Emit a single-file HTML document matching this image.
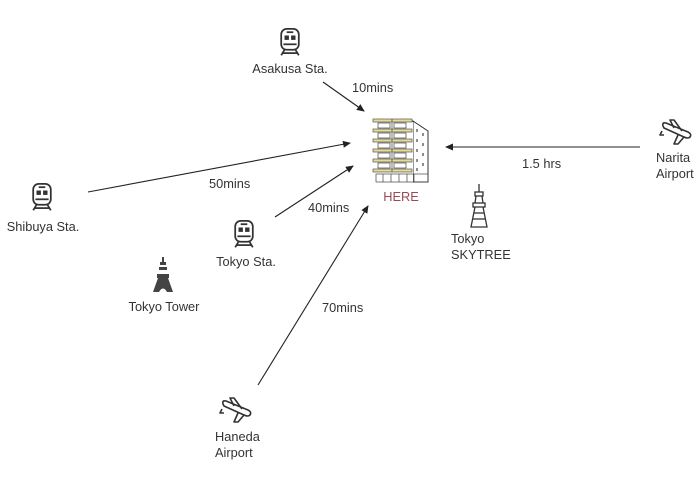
<!DOCTYPE html>
<html><head><meta charset="utf-8"><style>
html,body{margin:0;padding:0;background:#fff;}
svg{display:block;}
text{font-family:"Liberation Sans","DejaVu Sans",sans-serif;font-size:12.8px;fill:#333;}
</style></head><body>
<svg width="700" height="500" viewBox="0 0 700 500" xmlns="http://www.w3.org/2000/svg">
<defs>
<marker id="ah" markerWidth="8" markerHeight="8" refX="7" refY="4" orient="auto" markerUnits="userSpaceOnUse">
<path d="M0,0.5 L8,4 L0,7.5 Z" fill="#222"/></marker>
<g id="train" fill="none" stroke="#333" stroke-width="1.6">
<rect x="-8" y="-11" width="16" height="19" rx="5"/>
<line x1="-3" y1="-8" x2="3" y2="-8"/>
<rect x="-5" y="-5" width="4" height="4" fill="#333" stroke="none"/>
<rect x="1" y="-5" width="4" height="4" fill="#333" stroke="none"/>
<line x1="-6" y1="3" x2="6" y2="3"/>
<line x1="-5" y1="8" x2="-8" y2="13"/><line x1="5" y1="8" x2="8" y2="13"/>
<line x1="-7" y1="11" x2="7" y2="11"/>
</g>
<g id="plane" fill="none" stroke="#333" stroke-width="1.6" stroke-linejoin="round">
<path d="M-13,-6 Q-14,-10 -10,-9 L12,0 Q16,2 14,5 Q12,7 8,5 L-12,-4 Z"/>
<path d="M-2,-4 L-6,-12 L-2,-12 L6,-1"/>
<path d="M2,3 L-2,12 L2,12 L8,5"/>
<path d="M-14,-1 L-16,3 L-12,3"/>
</g>
</defs>

<g stroke="#222" stroke-width="1.1" marker-end="url(#ah)">
<line x1="323" y1="82" x2="364" y2="111"/>
<line x1="88" y1="192" x2="350" y2="143"/>
<line x1="275" y1="217" x2="353" y2="166"/>
<line x1="258" y1="385" x2="368" y2="206"/>
<line x1="640" y1="147" x2="446" y2="147"/>
</g>

<g>
<polygon points="413,121 428,131 428,182 413,182" fill="#fff" stroke="#333" stroke-width="1"/>
<rect x="375" y="122" width="38" height="60" fill="#fff" stroke="none"/>
<g fill="#e6dc96" stroke="#555" stroke-width="0.7">
<rect x="373" y="119" width="39" height="3"/>
<rect x="373" y="129" width="39" height="3"/>
<rect x="373" y="139" width="39" height="3"/>
<rect x="373" y="149" width="39" height="3"/>
<rect x="373" y="159" width="39" height="3"/>
<rect x="373" y="169" width="39" height="3"/>
</g>
<g fill="none" stroke="#444" stroke-width="0.7">
<rect x="378" y="123" width="12" height="5"/><rect x="394" y="123" width="12" height="5"/>
<rect x="378" y="133" width="12" height="5"/><rect x="394" y="133" width="12" height="5"/>
<rect x="378" y="143" width="12" height="5"/><rect x="394" y="143" width="12" height="5"/>
<rect x="378" y="153" width="12" height="5"/><rect x="394" y="153" width="12" height="5"/>
<rect x="378" y="163" width="12" height="5"/><rect x="394" y="163" width="12" height="5"/>
<line x1="392" y1="119" x2="392" y2="172"/>
<rect x="376" y="174" width="52" height="8"/>
<line x1="383" y1="174" x2="383" y2="182"/><line x1="391" y1="174" x2="391" y2="182"/><line x1="399" y1="174" x2="399" y2="182"/><line x1="407" y1="174" x2="407" y2="182"/><line x1="414" y1="174" x2="414" y2="182"/>
</g>
<g stroke="#444" stroke-width="1.2">
<line x1="417" y1="129" x2="417" y2="132"/><line x1="423" y1="133" x2="423" y2="136"/>
<line x1="417" y1="139" x2="417" y2="142"/><line x1="423" y1="143" x2="423" y2="146"/>
<line x1="417" y1="149" x2="417" y2="152"/><line x1="423" y1="153" x2="423" y2="156"/>
<line x1="417" y1="159" x2="417" y2="162"/><line x1="423" y1="163" x2="423" y2="166"/>
<line x1="417" y1="168" x2="417" y2="171"/>
</g>
</g>
<text x="401" y="201" text-anchor="middle" style="fill:#9b4a55">HERE</text>

<g fill="none" stroke="#333" stroke-width="1.3">
<line x1="479" y1="184" x2="479" y2="192"/>
<rect x="475" y="192" width="8" height="4"/>
<rect x="473" y="203" width="12" height="4"/>
<path d="M476,196 L475,203 M482,196 L483,203"/>
<path d="M475,207 L471,227 L487,227 L483,207"/>
<line x1="474" y1="213" x2="484" y2="213"/><line x1="473" y1="219" x2="485" y2="219"/>
</g>

<g fill="#444">
<rect x="162" y="257" width="2" height="5"/>
<rect x="160" y="262" width="6" height="3"/>
<rect x="159" y="267" width="8" height="3"/>
<rect x="157" y="274" width="12" height="4"/>
<path d="M158,278 L153,292 L159,292 Q163,285 167,292 L173,292 L168,278 Z"/>
</g>

<use href="#train" transform="translate(290,41) scale(1.1)"/>
<use href="#train" transform="translate(42,196) scale(1.1)"/>
<use href="#train" transform="translate(244,233) scale(1.1)"/>
<use href="#plane" x="676" y="132"/>
<use href="#plane" x="236" y="410"/>

<text x="290" y="73" text-anchor="middle">Asakusa Sta.</text>
<text x="352" y="92">10mins</text>
<text x="43" y="231" text-anchor="middle">Shibuya Sta.</text>
<text x="209" y="188">50mins</text>
<text x="308" y="212">40mins</text>
<text x="246" y="266" text-anchor="middle">Tokyo Sta.</text>
<text x="164" y="311" text-anchor="middle">Tokyo Tower</text>
<text x="322" y="312">70mins</text>
<text x="215" y="441">Haneda</text>
<text x="215" y="457">Airport</text>
<text x="522" y="168">1.5 hrs</text>
<text x="656" y="162">Narita</text>
<text x="656" y="178">Airport</text>
<text x="451" y="243">Tokyo</text>
<text x="451" y="259">SKYTREE</text>
</svg>
</body></html>
